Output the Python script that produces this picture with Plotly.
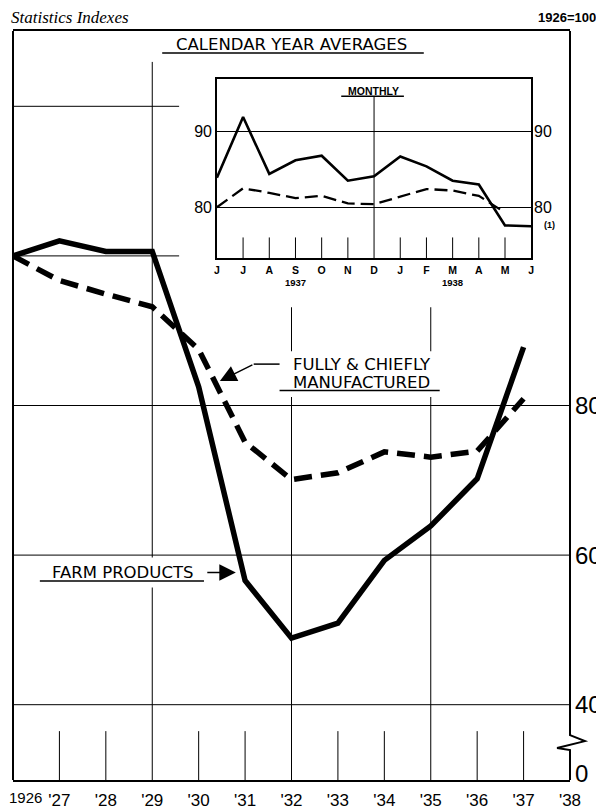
import plotly.graph_objects as go

# ---------------- data ----------------
years = [1926, 1927, 1928, 1929, 1930, 1931, 1932, 1933, 1934, 1935, 1936, 1937]
farm_products = [100.0, 102.0, 100.6, 100.6, 82.5, 56.6, 48.9, 50.9, 59.3, 63.9, 70.2, 87.8]
manufactured = [100.0, 96.7, 94.9, 93.2, 87.5, 75.1, 70.1, 71.0, 73.8, 73.1, 73.9, 80.9]

year_tick_vals = [1927, 1928, 1929, 1930, 1931, 1932, 1933, 1934, 1935, 1936, 1937, 1938]
year_tick_text = ["'27", "'28", "'29", "'30", "'31", "'32", "'33", "'34", "'35", "'36", "'37", "'38"]
major_years = [1929, 1932, 1935]
minor_years = [1927, 1928, 1930, 1931, 1933, 1934, 1936, 1937]
grid_values = [40, 60, 80, 100, 120]
right_tick_vals = [40, 60, 80]
right_tick_text = ["40", "60", "80"]

month_pos = [0, 1, 2, 3, 4, 5, 6, 7, 8, 9, 10, 11, 12]
month_labels = ["J", "J", "A", "S", "O", "N", "D", "J", "F", "M", "A", "M", "J"]
farm_monthly = [83.9, 91.9, 84.4, 86.2, 86.8, 83.5, 84.1, 86.7, 85.4, 83.5, 83.0, 77.6, 77.5]
manuf_monthly = [80.0, 82.5, 81.9, 81.2, 81.5, 80.5, 80.4, 81.4, 82.4, 82.2, 81.5, 79.3, None]
inset_ticks = [80, 90]
inset_minor = [1, 2, 3, 4, 5, 7, 8, 9, 10, 11]

# ---------------- geometry (screen pixels) ----------------
OFF = 8                      # page body margin
SW, SH = 604, 812            # screen size
W, H = SW - OFF, SH - OFF    # figure size
PL, PR, PT, PB = 10, 570, 31, 782
PPU = 7.5
Y100 = 256.5
y_hi = 100 + (Y100 - PT) / PPU
y_lo = 100 - (PB - Y100) / PPU

IL, IR, IT, IB = 215, 531, 79.3, 259
i_lo, i_hi = 73.25, 96.9


def X(px):
    return (px - PL) / (PR - PL)


def Y(py):
    return (PB - py) / (PB - PT)


def dx(px):
    return 1926 + 12 * X(px)


def dy(py):
    return y_lo + (y_hi - y_lo) * Y(py)


def iy(py):
    return i_lo + (i_hi - i_lo) * (IB - py) / (IB - IT)


SANS = "Liberation Sans, Arial, sans-serif"
LAB = "DejaVu Sans, sans-serif"

fig = go.Figure()
fig.add_trace(go.Scatter(x=years, y=farm_products, mode="lines",
                         line=dict(color="black", width=5.5), hoverinfo="skip"))
fig.add_trace(go.Scatter(x=years, y=manufactured, mode="lines",
                         line=dict(color="black", width=5.5, dash="18px,9px"), hoverinfo="skip"))
fig.add_trace(go.Scatter(x=month_pos, y=farm_monthly, mode="lines", xaxis="x2", yaxis="y2",
                         line=dict(color="black", width=2.6), hoverinfo="skip"))
fig.add_trace(go.Scatter(x=month_pos, y=manuf_monthly, mode="lines", xaxis="x2", yaxis="y2",
                         line=dict(color="black", width=2.3, dash="13px,6px"), hoverinfo="skip"))

shapes = []
# main gridlines
for v in grid_values:
    shapes.append(dict(type="line", xref="x", yref="y", x0=1926, x1=1938, y0=v, y1=v,
                       line=dict(color="black", width=1), layer="below"))
for yr in major_years:
    shapes.append(dict(type="line", xref="x", yref="y", x0=yr, x1=yr, y0=y_lo, y1=dy(62),
                       line=dict(color="black", width=1), layer="below"))
for yr in minor_years:
    shapes.append(dict(type="line", xref="x", yref="y", x0=yr, x1=yr, y0=y_lo, y1=dy(733),
                       line=dict(color="black", width=1), layer="below"))
# white covers behind inset and labels
for (x0, x1, y0, y1) in [(177, 569, PT, 308), (270, 447, 352, 398), (38, 200, 559, 589)]:
    shapes.append(dict(type="rect", xref="x", yref="y", x0=dx(x0), x1=dx(x1), y0=dy(y1), y1=dy(y0),
                       fillcolor="white", line=dict(width=0), layer="below"))
# frame: left line and right line with axis break
shapes.append(dict(type="line", xref="paper", yref="paper", x0=X(PL), x1=X(PL), y0=Y(PB), y1=Y(PT),
                   line=dict(color="black", width=2), layer="above"))
zz = [(PR, PT), (PR, 737), (585, 743), (557, 750), (PR, 752), (PR, PB)]
path = "M " + " L ".join(f"{X(a):.5f},{Y(b):.5f}" for a, b in zz)
shapes.append(dict(type="path", xref="paper", yref="paper", path=path,
                   line=dict(color="black", width=2), layer="above"))
# underlines
for (x0, x1, y) in [(160, 423, 53), (278, 439, 391.5), (37, 202, 582.5), (340, 403, 96.5)]:
    shapes.append(dict(type="line", xref="paper", yref="paper", x0=X(x0), x1=X(x1), y0=Y(y), y1=Y(y),
                       line=dict(color="black", width=1.5), layer="above"))
# arrow elbow for "fully & chiefly"
shapes.append(dict(type="line", xref="paper", yref="paper", x0=X(252), x1=X(278), y0=Y(365), y1=Y(365),
                   line=dict(color="black", width=1.5), layer="above"))
# inset: December line and month ticks
shapes.append(dict(type="line", xref="x2", yref="y2", x0=6, x1=6, y0=i_lo, y1=iy(97),
                   line=dict(color="black", width=1), layer="above"))
for m in inset_minor:
    shapes.append(dict(type="line", xref="x2", yref="y2", x0=m, x1=m, y0=i_lo, y1=iy(238),
                       line=dict(color="black", width=1), layer="above"))

ann = []


def text(t, px, py, size, xanchor="center", family=LAB, weight="normal", style="normal"):
    ann.append(dict(text=t, xref="paper", yref="paper", x=X(px), y=Y(py), xanchor=xanchor,
                    yanchor="middle", showarrow=False,
                    font=dict(family=family, size=size, color="black", weight=weight, style=style)))


text("Statistics Indexes", 6, 17, 17, xanchor="left", family="Liberation Serif, serif", style="italic")
text("1926=100", 598, 17, 13, xanchor="right", family=SANS, weight="bold")
text("CALENDAR YEAR AVERAGES", 290, 45, 16.5)
text("FULLY & CHIEFLY", 361, 365, 16.5)
text("MANUFACTURED", 360, 383, 16.5)
text("FARM PRODUCTS", 120, 574, 16.5)
text("MONTHLY", 372, 91, 10.5, family=SANS, weight="bold")
text("(1)", 542, 226, 9, xanchor="left", family=SANS, weight="bold")
text("1926", 4, 800, 15, xanchor="left", family=SANS)
# right-hand inset scale labels
for v in inset_ticks:
    ann.append(dict(text=str(v), xref="paper", yref="y2", x=X(IR + 1), y=v, xanchor="left",
                    yanchor="middle", showarrow=False,
                    font=dict(family=SANS, size=16, color="black")))
for t, xm in [("1937", 3), ("1938", 9)]:
    ann.append(dict(text=t, xref="x2", yref="paper", x=xm, y=Y(283), xanchor="center", yanchor="middle",
                    showarrow=False, font=dict(family=SANS, size=9.5, color="black", weight="bold")))
# arrows
for (hx, hy, tx, ty) in [(218, 382, 252, 365), (234, 574, 204, 574)]:
    ann.append(dict(text="", xref="paper", yref="paper", x=X(hx), y=Y(hy), ax=tx - hx, ay=ty - hy,
                    showarrow=True, arrowhead=2, arrowsize=2.2, arrowwidth=1.5, arrowcolor="black",
                    standoff=0))

fig.update_layout(
    width=W, height=H,
    margin=dict(l=PL - OFF, r=SW - PR, t=PT - OFF, b=SH - PB, pad=0),
    paper_bgcolor="white", plot_bgcolor="white",
    showlegend=False,
    shapes=shapes, annotations=ann,
    xaxis=dict(domain=[0, 1], range=[1926, 1938], showgrid=False, zeroline=False,
               showline=True, mirror=True, linecolor="black", linewidth=2,
               tickmode="array", tickvals=year_tick_vals, ticktext=year_tick_text,
               ticks="", ticklabelstandoff=4,
               tickfont=dict(family=SANS, size=17, color="black")),
    yaxis=dict(domain=[0, 1], range=[y_lo, y_hi], side="right", showgrid=False, zeroline=False,
               showline=False, tickmode="array",
               tickvals=[dy(776)] + right_tick_vals, ticktext=["0"] + right_tick_text,
               ticks="", ticklabelstandoff=4,
               tickfont=dict(family=SANS, size=24, color="black")),
    xaxis2=dict(domain=[X(IL), X(IR)], anchor="y2", range=[0, 12], showgrid=False, zeroline=False,
                showline=True, mirror=True, linecolor="black", linewidth=1.5,
                tickmode="array", tickvals=month_pos, ticktext=month_labels, ticks="",
                ticklabelstandoff=1,
                tickfont=dict(family=SANS, size=10.5, color="black", weight="bold")),
    yaxis2=dict(domain=[Y(IB), Y(IT)], anchor="x2", range=[i_lo, i_hi], showgrid=True,
                gridcolor="black", gridwidth=1, zeroline=False,
                showline=True, mirror=True, linecolor="black", linewidth=1.5,
                tickmode="array", tickvals=inset_ticks, ticks="",
                tickfont=dict(family=SANS, size=16, color="black")),
)

fig.write_html("out.html")
